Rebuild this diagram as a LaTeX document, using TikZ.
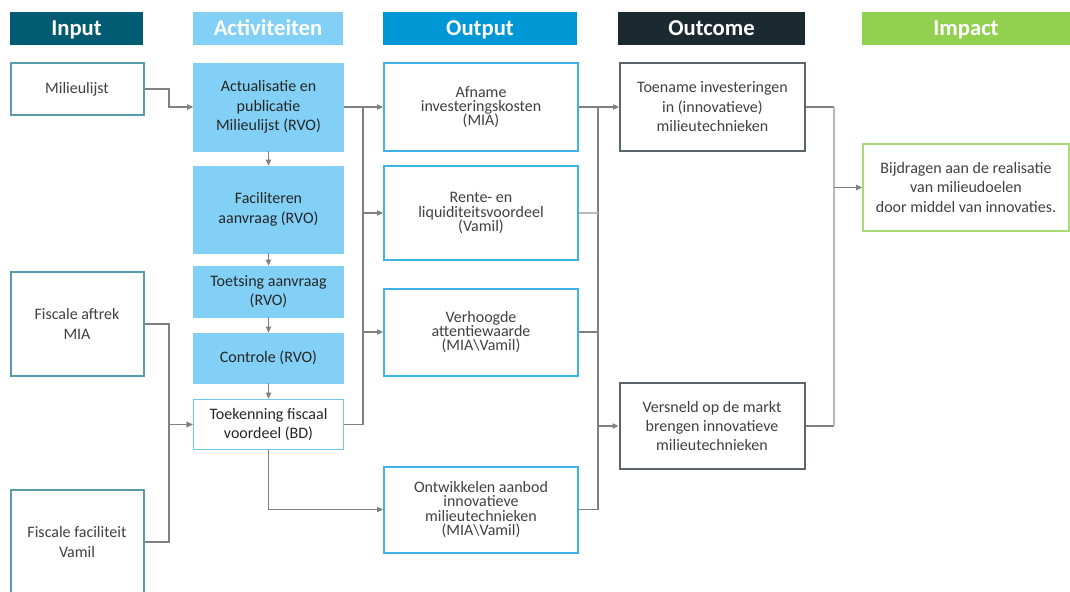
\documentclass[tikz,border=0pt]{standalone}
\usepackage{fontspec}
\setmainfont{Carlito}
\usetikzlibrary{arrows.meta}

\definecolor{inputteal}{HTML}{005B73}
\definecolor{actblue}{HTML}{82D0F5}
\definecolor{grantline}{HTML}{6CC8F2}
\definecolor{outblue}{HTML}{0097D7}
\definecolor{outcdark}{HTML}{1B2A31}
\definecolor{impgreen}{HTML}{92D050}
\definecolor{txtgray}{HTML}{404040}
\definecolor{inborder}{HTML}{5A9BAB}
\definecolor{outborder}{HTML}{3DB4E7}
\definecolor{ocborder}{HTML}{5A656B}
\definecolor{impborder}{HTML}{A6DB75}
\definecolor{linkgray}{HTML}{808080}

\newcommand{\tightlines}{\lineskiplimit-20pt\relax}

\tikzset{
    header/.style={fill=#1, text=white, font=\fontsize{17}{20}\selectfont\bfseries,
        minimum height=24.75pt, inner sep=0pt, text height=13.5pt, text depth=2.25pt},
    box/.style={draw, line width=1.5pt, text=txtgray, align=center, inner sep=0pt,
        font=\fontsize{12}{14.6}\selectfont},
    inbox/.style={box, draw=inborder, minimum width=99.75pt},
    actbox/.style={box, draw=actblue, fill=actblue, line width=0.5pt, text=black!85,
        minimum width=112.5pt},
    grantbox/.style={box, draw=grantline, line width=1.2pt, text=black!85, minimum width=112.5pt},
    outbox/.style={box, draw=outborder, minimum width=145.5pt,
        font=\fontsize{12}{10.7}\selectfont\tightlines},
    ocbox/.style={box, draw=ocborder, minimum width=138.75pt},
    impbox/.style={box, draw=impborder, line width=1.2pt, minimum width=154.5pt},
    link/.style={draw=linkgray, line width=0.8pt},
    linklight/.style={draw=linkgray!55, line width=0.8pt}
}

\begin{document}
\begin{tikzpicture}[x=0.75pt, y=-0.75pt, >={Triangle[length=4.5pt,width=4pt]}]
    \useasboundingbox (0,0) rectangle (1070,592);

    \node[header=inputteal, minimum width=99.75pt] (hin) at (76.5,28.5) {Input};
    \node[header=actblue, minimum width=112.5pt] (hact) at (268,28.5) {Activiteiten};
    \node[header=outblue, minimum width=145.5pt] (hout) at (480,28.5) {Output};
    \node[header=outcdark, minimum width=140.25pt] (hoc) at (711.5,28.5) {Outcome};
    \node[header=impgreen, minimum width=156pt] (himp) at (966,28.5) {Impact};

    \node[inbox, minimum height=39pt] (mil) at (77,89) {Milieulijst};
    \node[inbox, minimum height=78pt] (fa) at (77,324) {Fiscale aftrek\\MIA};
    \node[inbox, minimum height=78pt] (ff) at (77,542) {Fiscale faciliteit\\Vamil};

    \node[actbox, minimum height=66pt] (act1) at (268.5,107) {Actualisatie en\\publicatie\\Milieulijst (RVO)};
    \node[actbox, minimum height=65.25pt] (act2) at (268.5,209.5) {Faciliteren\\aanvraag (RVO)};
    \node[actbox, minimum height=38.25pt] (act3) at (268.5,291.5) {Toetsing aanvraag\\(RVO)};
    \node[actbox, minimum height=37.5pt] (act4) at (268.5,358) {Controle (RVO)};
    \node[grantbox, minimum height=37.5pt] (act5) at (268.5,424.5) {Toekenning fiscaal\\voordeel (BD)};

    \node[outbox, minimum height=65.25pt] (out1) at (481,107) {Afname\\investeringskosten\\(MIA)};
    \node[outbox, minimum height=70.5pt] (out2) at (481,213) {Rente- en\\liquiditeitsvoordeel\\(Vamil)};
    \node[outbox, minimum height=65.25pt] (out3) at (481,332) {Verhoogde\\attentiewaarde\\(MIA\textbackslash Vamil)};
    \node[outbox, minimum height=64.5pt] (out4) at (481,509.5) {Ontwikkelen aanbod\\innovatieve\\milieutechnieken\\(MIA\textbackslash Vamil)};

    \node[ocbox, minimum height=65.25pt] (oc1) at (712.5,107) {Toename investeringen\\in (innovatieve)\\milieutechnieken};
    \node[ocbox, minimum height=64.5pt] (oc2) at (712,426) {Versneld op de markt\\brengen innovatieve\\milieutechnieken};

    \node[impbox, minimum height=65.25pt] (imp) at (966,187.5) {Bijdragen aan de realisatie\\van milieudoelen\\door middel van innovaties.};

    \coordinate (busA) at (169,0);
    \coordinate (busB) at (363,0);
    \coordinate (busC) at (598,0);
    \coordinate (busD) at (834,0);

    \draw[link, ->] (mil.east) -- (mil.east -| busA) |- (act1.west);
    \draw[link, ->] (fa.east) -- (fa.east -| busA) |- (act5.west);
    \draw[link, ->] (ff.east) -- (ff.east -| busA) |- (act5.west);

    \draw[link, ->] (act1) -- (act2);
    \draw[link, ->] (act2) -- (act3);
    \draw[link, ->] (act3) -- (act4);
    \draw[link, ->] (act4) -- (act5);

    \draw[link, ->] (act1.east) -- (out1.west);
    \draw[link] (act5.east) -- (act5.east -| busB) -- (act1.east -| busB);
    \draw[link, ->] (out2.west -| busB) -- (out2.west);
    \draw[link, ->] (out3.west -| busB) -- (out3.west);
    \draw[link, ->] (act5.south) |- (out4.west);

    \draw[link, ->] (out1.east) -- (oc1.west);
    \draw[link] (out4.east) -- (out4.east -| busC) -- (out1.east -| busC);
    \draw[linklight] (out2.east) -- (out2.east -| busC);
    \draw[link] (out3.east) -- (out3.east -| busC);
    \draw[link, ->] (oc2.west -| busC) -- (oc2.west);

    \draw[link] (oc1.east) -- (oc1.east -| busD);
    \draw[link] (oc2.east) -- (oc2.east -| busD);
    \draw[linklight] (oc1.east -| busD) -- (oc2.east -| busD);
    \draw[link, ->] (imp.west -| busD) -- (imp.west);
\end{tikzpicture}
\end{document}
